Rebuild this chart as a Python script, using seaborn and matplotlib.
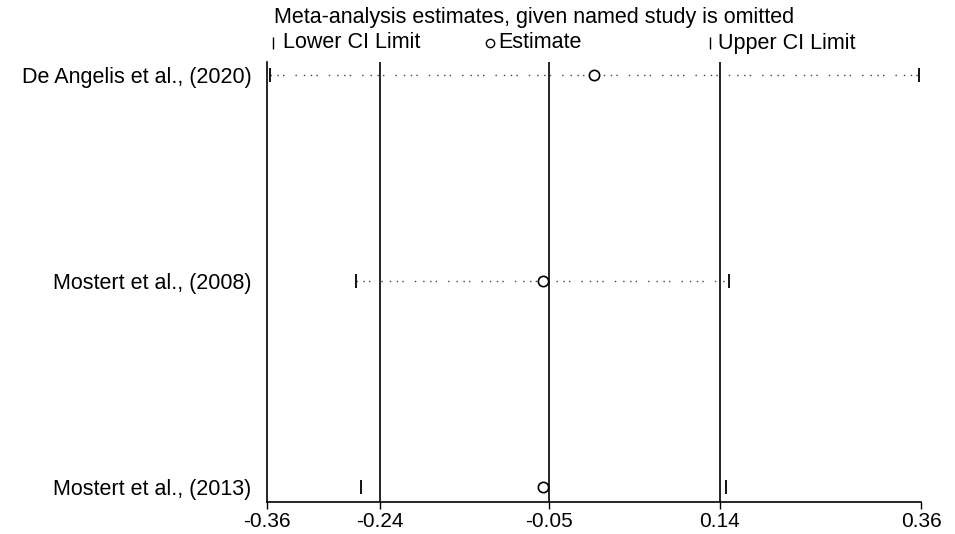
import matplotlib.pyplot as plt
import seaborn as sns
import pandas as pd

studies = ["De Angelis et al., (2020)", "Mostert et al., (2008)", "Mostert et al., (2013)"]
lower_ci = [-0.357, -0.262, -0.256]
estimate = [0.000, -0.056, -0.056]
upper_ci = [0.358, 0.149, 0.145]
show_dots = [True, True, False]

# pooled lower CI, estimate, upper CI (axis labels show them rounded)
overall = [-0.2356, -0.0495, 0.1387]
x_ticks = [-0.36, -0.2356, -0.0495, 0.1387, 0.36]
x_tick_labels = ["-0.36", "-0.24", "-0.05", "0.14", "0.36"]

sns.set_style("white")
plt.rcParams["font.family"] = ["Liberation Sans", "DejaVu Sans"]
plt.rcParams["text.color"] = "black"
plt.rcParams["xtick.color"] = "black"
plt.rcParams["ytick.color"] = "black"

df = pd.DataFrame({"study": studies, "lower": lower_ci, "est": estimate, "upper": upper_ci})
df["y"] = list(range(len(studies) - 1, -1, -1))

fig = plt.figure(figsize=(9.55, 5.34), dpi=100)
ax = fig.add_axes([267 / 955, 1 - 502 / 534, (921 - 267) / 955, (502 - 62) / 534])

ax.set_xlim(-0.36, 0.36)
ax.set_ylim(-0.073, 2.063)

# overall estimate and CI reference lines
ax.vlines(overall, -0.073, 2.063, color="black", lw=1.2, zorder=1)

for row, dots in zip(df.itertuples(), show_dots):
    if dots:
        ax.plot([row.lower, row.upper], [row.y, row.y], color="#444444", lw=1.0,
                linestyle=(0, (1, 4, 1, 3, 1, 8, 1, 5)), zorder=2)

ax.plot(df["lower"], df["y"], linestyle="none", marker="|", ms=10, mew=1.3, color="black", zorder=3)
ax.plot(df["upper"], df["y"], linestyle="none", marker="|", ms=10, mew=1.3, color="black", zorder=3)
sns.scatterplot(data=df, x="est", y="y", marker="o", s=55, facecolor="white",
                edgecolor="black", linewidth=1.2, zorder=4, ax=ax, legend=False)

ax.set_xticks(x_ticks)
ax.set_xticklabels(x_tick_labels, fontsize=15)
ax.set_yticks(df["y"])
ax.set_yticklabels(df["study"], fontsize=15.5)
ax.tick_params(axis="x", direction="out", length=5, width=1, pad=2, bottom=True)
ax.tick_params(axis="y", length=0, pad=11)
ax.set_xlabel("")
ax.set_ylabel("")
for side in ["top", "right"]:
    ax.spines[side].set_visible(False)
for side in ["left", "bottom"]:
    ax.spines[side].set_color("black")
    ax.spines[side].set_linewidth(1.2)

# legend block above the plot
fig.text(274 / 955, 1 - 18 / 534, "Meta-analysis estimates, given named study is omitted",
         fontsize=15.5, ha="left", va="center")
leg_y = 1 - 43 / 534
fig.add_artist(plt.Line2D([273 / 955], [leg_y], marker="|", ms=8, mew=1, color="black"))
fig.text(283 / 955, leg_y, "Lower CI Limit", fontsize=15.5, ha="left", va="center")
fig.add_artist(plt.Line2D([490 / 955], [leg_y], marker="o", ms=6, mew=1, color="black",
                          markerfacecolor="white"))
fig.text(498 / 955, leg_y, "Estimate", fontsize=15.5, ha="left", va="center")
fig.add_artist(plt.Line2D([710 / 955], [leg_y], marker="|", ms=8, mew=1, color="black"))
fig.text(718 / 955, leg_y, "Upper CI Limit", fontsize=15.5, ha="left", va="center")

fig.savefig("out.png", dpi=100)
